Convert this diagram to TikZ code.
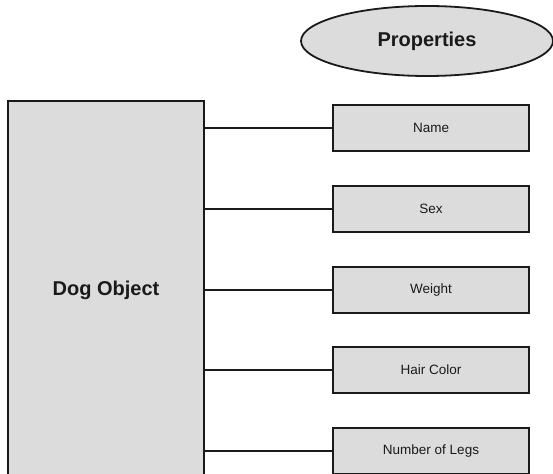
\documentclass[tikz,border=0pt]{standalone}
\usepackage{fontspec}
\setmainfont{Liberation Sans}
\usetikzlibrary{shapes.geometric}
\definecolor{boxgray}{HTML}{DCDCDC}
\definecolor{edge}{HTML}{1A1A1A}
\tikzset{
  x=1pt, y=-1pt,
  shape base/.style={draw=edge, line width=1.8pt, fill=boxgray, inner sep=0pt, text=edge},
  prop/.style={shape base, minimum width=196pt, minimum height=46pt, font=\fontsize{13.5}{16}\selectfont},
  bigtext/.style={font=\bfseries\fontsize{20}{24}\selectfont},
  conn/.style={draw=edge, line width=1.8pt},
}
\begin{document}
\begin{tikzpicture}
\useasboundingbox (0,0) rectangle (553,473);
\begin{scope}
\clip (0,0) rectangle (553,473);
\node[shape base, ellipse, minimum width=252pt, minimum height=70pt, bigtext] (props) at (427,41) {Properties};
\node[shape base, minimum width=196pt, minimum height=378pt, bigtext] (dog) at (106,290) {Dog Object};
\node[prop] (name) at (431,128) {Name};
\node[prop] (sex) at (431,209) {Sex};
\node[prop] (weight) at (431,290) {Weight};
\node[prop] (hair) at (431,370) {Hair Color};
\node[prop] (legs) at (431,451) {Number of Legs};
\foreach \n in {name,sex,weight,hair,legs}
  \draw[conn] (dog.east |- \n.west) -- (\n.west);
\end{scope}
\end{tikzpicture}
\end{document}
